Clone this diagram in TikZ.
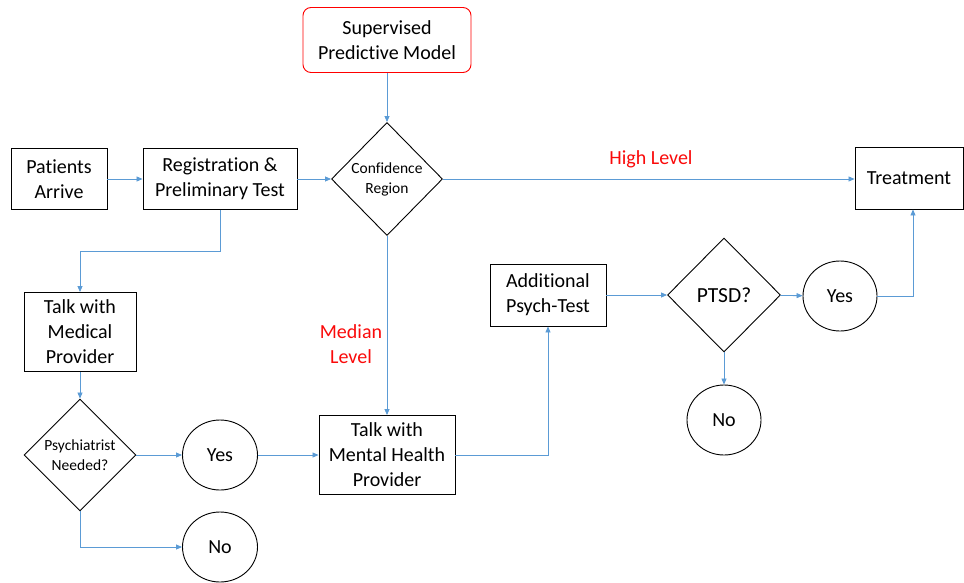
\documentclass[tikz,border=0pt]{standalone}
\usepackage{fontspec}
\setmainfont{Carlito}[Ligatures=NoCommon]
\usetikzlibrary{shapes.geometric,arrows.meta}
\definecolor{linkblue}{RGB}{91,155,213}
\definecolor{levelred}{RGB}{250,10,10}

\begin{document}
\begin{tikzpicture}[x=1pt, y=-1pt,
    every node/.style={font=\fontsize{20}{25}\selectfont, align=center},
    box/.style={draw, line width=0.9pt, inner sep=2pt},
    decision/.style={draw, diamond, line width=0.9pt, inner sep=0pt, font=\fontsize{15.5}{20}\selectfont},
    answer/.style={draw, ellipse, line width=0.9pt, minimum width=75, minimum height=70},
    link/.style={draw=linkblue, line width=0.8pt, -{Triangle[length=6pt,width=5pt]}},
    level/.style={text=levelred}]
    \useasboundingbox (0,0) rectangle (964,582);
    % top row
    \node[box, minimum width=96, minimum height=61] (pat) at (59,179) {Patients\\Arrive};
    \node[box, minimum width=154, minimum height=61] (reg) at (220,179) {Registration \&\\Preliminary Test};
    \node[box, draw=red, rounded corners=8pt, minimum width=168, minimum height=65] (sup) at (387,40) {Supervised\\Predictive Model};
    \node[decision, minimum width=111, minimum height=113] (conf) at (387,179) {Confidence\\Region};
    \node[box, minimum width=108, minimum height=62] (treat) at (909,178) {Treatment};
    \node[level] (high) at (651,159) {High Level};
    % left column
    \node[box, minimum width=112, minimum height=79] (medical) at (80,332) {Talk with\\Medical\\Provider};
    \node[decision, minimum width=112, minimum height=112] (psych) at (80,455) {Psychiatrist\\Needed?};
    \node[answer] (yesA) at (220,455) {Yes};
    \node[answer] (noA) at (220,547) {No};
    % middle
    \node[level] (median) at (351,344) {Median\\Level};
    \node[box, minimum width=136, minimum height=79] (mental) at (387,455) {Talk with\\Mental Health\\Provider};
    \node[box, minimum width=116, minimum height=62] (addl) at (548,295) {Additional\\Psych-Test};
    \node[decision, font=\fontsize{21.5}{25}\selectfont, minimum width=113, minimum height=114] (ptsd) at (724,295) {PTSD?};
    \node[answer, minimum width=74] (yesB) at (840,296) {Yes};
    \node[answer, minimum width=74] (noB) at (724,420) {No};
    % connectors
    \draw[link] (pat) -- (reg);
    \draw[link] (reg) -- (conf);
    \draw[link] (sup) -- (conf);
    \draw[link] (conf.east) -- (conf.east -| treat.west);
    \draw[link] (conf) -- (mental);
    \draw[link] (reg.south) -- ++(0,41) -| (medical.north);
    \draw[link] (medical) -- (psych);
    \draw[link] (psych) -- (yesA);
    \draw[link] (psych.south) |- (noA);
    \draw[link] (yesA) -- (mental);
    \draw[link] (mental.east) -| (addl.south);
    \draw[link] (addl) -- (ptsd);
    \draw[link] (ptsd) -- (yesB);
    \draw[link] (ptsd) -- (noB);
    \draw[link] (yesB.east) -| ([xshift=4pt]treat.south);
\end{tikzpicture}
\end{document}
